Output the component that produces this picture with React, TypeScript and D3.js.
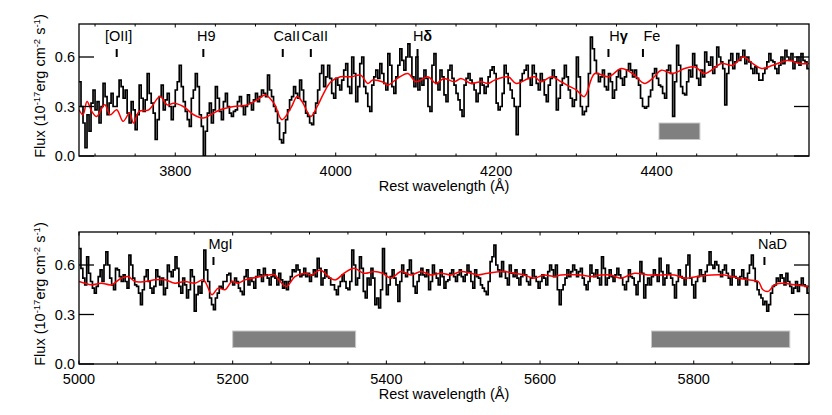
import React from 'react';
import * as d3 from 'd3';

// ---------- data ----------
const TOP_START = 3680;
const BOT_START = 5000;
const BIN = 2.5;

const topFlux = [
  0.45, 0.3, 0.2, 0.05, 0.25, 0.15, 0.32, 0.4, 0.28, 0.33,
  0.2, 0.3, 0.44, 0.36, 0.25, 0.32, 0.38, 0.3, 0.3, 0.36,
  0.46, 0.42, 0.35, 0.4, 0.26, 0.2, 0.33, 0.28, 0.16, 0.25,
  0.43, 0.35, 0.27, 0.34, 0.5, 0.38, 0.32, 0.26, 0.1, 0.22,
  0.36, 0.43, 0.28, 0.34, 0.38, 0.3, 0.22, 0.3, 0.4, 0.45,
  0.55, 0.42, 0.33, 0.27, 0.22, 0.18, 0.35, 0.4, 0.5, 0.42,
  0.25, 0.18, 0.0, 0.15, 0.26, 0.32, 0.2, 0.28, 0.42, 0.35,
  0.27, 0.22, 0.33, 0.38, 0.3, 0.26, 0.24, 0.27, 0.28, 0.33,
  0.36, 0.3, 0.25, 0.3, 0.37, 0.32, 0.28, 0.34, 0.38, 0.33,
  0.36, 0.4, 0.38, 0.36, 0.49, 0.4, 0.36, 0.3, 0.27, 0.2,
  0.1, 0.08, 0.14, 0.22, 0.28, 0.34, 0.36, 0.42, 0.38, 0.35,
  0.46, 0.4, 0.33, 0.26, 0.24, 0.2, 0.19, 0.26, 0.32, 0.4,
  0.5, 0.55, 0.42, 0.48,
  0.55, 0.47, 0.38, 0.35, 0.47, 0.43, 0.4, 0.46, 0.52, 0.56,
  0.42, 0.38, 0.6, 0.5, 0.33, 0.42, 0.56, 0.6, 0.42, 0.38,
  0.3, 0.27, 0.43, 0.48, 0.52, 0.47, 0.56, 0.5, 0.44, 0.4,
  0.62, 0.55, 0.42, 0.38, 0.48, 0.55, 0.65, 0.58, 0.52, 0.6,
  0.68, 0.6, 0.48, 0.42, 0.6, 0.4, 0.47, 0.43, 0.52, 0.47,
  0.3, 0.27, 0.55, 0.62, 0.44, 0.4, 0.52, 0.48, 0.37, 0.33,
  0.52, 0.55, 0.47, 0.43, 0.38, 0.34, 0.28, 0.24, 0.43, 0.47,
  0.5, 0.46, 0.44, 0.4, 0.33, 0.38, 0.47, 0.43, 0.38, 0.42,
  0.48, 0.52, 0.54, 0.5, 0.32, 0.28, 0.3, 0.38, 0.55, 0.5,
  0.44, 0.4, 0.35, 0.3, 0.13, 0.3, 0.46, 0.5, 0.52, 0.55,
  0.47, 0.43, 0.55, 0.5, 0.44, 0.4, 0.5, 0.46, 0.37, 0.33,
  0.43, 0.47, 0.52, 0.48, 0.28, 0.35, 0.43, 0.47, 0.55, 0.48,
  0.4, 0.35, 0.3, 0.34, 0.6, 0.48, 0.3, 0.25, 0.27, 0.3,
  0.5, 0.72, 0.65, 0.58, 0.5, 0.45, 0.48, 0.52, 0.42, 0.4,
  0.5, 0.45, 0.35, 0.4, 0.48, 0.52, 0.47, 0.43, 0.48, 0.52,
  0.56, 0.52, 0.48, 0.52, 0.47, 0.43, 0.35, 0.3, 0.29, 0.3,
  0.36, 0.4, 0.5, 0.53, 0.47, 0.43, 0.42, 0.38, 0.35, 0.52,
  0.55, 0.5, 0.24, 0.45, 0.67, 0.55, 0.42, 0.38, 0.37, 0.45,
  0.52, 0.48, 0.62, 0.55, 0.47, 0.43, 0.52, 0.48, 0.63, 0.57,
  0.55, 0.6, 0.5, 0.54, 0.66, 0.6, 0.57, 0.53, 0.31, 0.5,
  0.58, 0.62, 0.53, 0.57, 0.62, 0.58, 0.6, 0.64, 0.56, 0.6,
  0.57, 0.53, 0.5, 0.54, 0.5, 0.46, 0.46, 0.5, 0.53, 0.57,
  0.62, 0.58, 0.57, 0.53, 0.5, 0.55, 0.6, 0.56, 0.64, 0.6,
  0.58, 0.62, 0.53, 0.57, 0.6, 0.55, 0.62, 0.58, 0.57, 0.53,
];

const topModelWave = [
  3680, 3685, 3690, 3696, 3702, 3712, 3719, 3727, 3735, 3743,
  3748, 3755, 3767, 3781, 3790, 3798, 3810, 3823, 3835, 3844,
  3856, 3873, 3890, 3902, 3912, 3923, 3933, 3944, 3952, 3958,
  3969, 3977, 3985, 3994, 4006, 4019, 4031, 4040, 4046, 4058,
  4065, 4077, 4090, 4100, 4115, 4125, 4135, 4148, 4156, 4169,
  4181, 4190, 4198, 4215, 4225, 4240, 4248, 4256, 4269, 4281,
  4292, 4300, 4310, 4323, 4340, 4356, 4370, 4385, 4395, 4406,
  4420, 4435, 4448, 4460, 4481, 4495, 4508, 4520, 4531, 4545,
  4565, 4578, 4590,
];
const topModelFlux = [
  0.28, 0.25, 0.33, 0.27, 0.24, 0.31, 0.25, 0.28, 0.21, 0.26,
  0.2, 0.27, 0.28, 0.36, 0.31, 0.32, 0.3, 0.25, 0.23, 0.25,
  0.28, 0.3, 0.31, 0.34, 0.37, 0.32, 0.22, 0.29, 0.36, 0.33,
  0.24, 0.3, 0.38, 0.45, 0.48, 0.48, 0.49, 0.44, 0.46, 0.45,
  0.43, 0.47, 0.5, 0.45, 0.48, 0.44, 0.47, 0.45, 0.47, 0.44,
  0.45, 0.44, 0.46, 0.48, 0.44, 0.47, 0.48, 0.45, 0.48, 0.45,
  0.42, 0.4, 0.36, 0.5, 0.48, 0.53, 0.5, 0.44, 0.47, 0.52,
  0.5, 0.53, 0.54, 0.5, 0.56, 0.55, 0.6, 0.56, 0.53, 0.55,
  0.58, 0.56, 0.56,
];

const botFlux = [
  0.7, 0.58, 0.52, 0.48, 0.65, 0.55, 0.5, 0.46, 0.43, 0.47,
  0.53, 0.57, 0.5, 0.6, 0.68, 0.6, 0.52, 0.48, 0.45, 0.58,
  0.57, 0.53, 0.5, 0.54, 0.5, 0.46, 0.66, 0.6, 0.52, 0.48,
  0.47, 0.43, 0.36, 0.45, 0.53, 0.57, 0.5, 0.46, 0.43, 0.47,
  0.57, 0.53, 0.48, 0.52, 0.42, 0.46, 0.6, 0.56, 0.53, 0.57,
  0.65, 0.58, 0.47, 0.43, 0.52, 0.48, 0.4, 0.45, 0.57, 0.53,
  0.32, 0.42, 0.47, 0.43, 0.5, 0.69, 0.57, 0.5, 0.4, 0.36,
  0.33, 0.4, 0.43, 0.47, 0.46, 0.5, 0.5, 0.54, 0.55, 0.5,
  0.48, 0.52, 0.5, 0.46, 0.44, 0.42, 0.53, 0.57, 0.48, 0.52,
  0.5, 0.46, 0.53, 0.57, 0.54, 0.5, 0.58, 0.54, 0.52, 0.48,
  0.53, 0.57, 0.52, 0.48, 0.55, 0.51, 0.46, 0.5, 0.45, 0.5,
  0.53, 0.57, 0.56, 0.6, 0.57, 0.53, 0.54, 0.58, 0.53, 0.55,
  0.5, 0.54, 0.57, 0.53, 0.64, 0.58, 0.48, 0.52, 0.57, 0.53,
  0.52, 0.48, 0.48, 0.45, 0.42, 0.47, 0.5, 0.54, 0.5, 0.46,
  0.45, 0.5, 0.69, 0.6, 0.48, 0.52, 0.65, 0.58, 0.44, 0.4,
  0.52, 0.48, 0.58, 0.52, 0.36, 0.4, 0.34, 0.45, 0.7, 0.55,
  0.42, 0.48, 0.53, 0.57, 0.52, 0.48, 0.38, 0.5, 0.6, 0.55,
  0.53, 0.57, 0.63, 0.55, 0.47, 0.43, 0.5, 0.54, 0.58, 0.54,
  0.53, 0.57, 0.45, 0.5, 0.6, 0.55, 0.52, 0.48, 0.57, 0.53,
  0.46, 0.5, 0.51, 0.55, 0.57, 0.53, 0.5, 0.54, 0.57, 0.53,
  0.5, 0.54, 0.6, 0.56, 0.5, 0.46, 0.57, 0.53, 0.52, 0.48,
  0.46, 0.44, 0.42, 0.5, 0.62, 0.65, 0.72, 0.6, 0.57, 0.53,
  0.62, 0.56, 0.52, 0.48, 0.6, 0.55, 0.53, 0.57, 0.52, 0.48,
  0.53, 0.57, 0.54, 0.5, 0.48, 0.52, 0.57, 0.53, 0.5, 0.46,
  0.5, 0.54, 0.52, 0.48, 0.56, 0.6, 0.57, 0.53, 0.6, 0.45,
  0.36, 0.45, 0.48, 0.52, 0.57, 0.53, 0.56, 0.6, 0.57, 0.53,
  0.56, 0.58, 0.52, 0.48, 0.45, 0.5, 0.6, 0.55, 0.53, 0.57,
  0.52, 0.48, 0.65, 0.58, 0.48, 0.52, 0.57, 0.53, 0.5, 0.54,
  0.58, 0.54, 0.52, 0.48, 0.45, 0.5, 0.57, 0.53, 0.52, 0.48,
  0.42, 0.5, 0.62, 0.55, 0.4, 0.48, 0.52, 0.48, 0.53, 0.57,
  0.54, 0.5, 0.64, 0.56, 0.48, 0.52, 0.6, 0.55, 0.52, 0.48,
  0.4, 0.5, 0.57, 0.53, 0.52, 0.48, 0.6, 0.66, 0.52, 0.48,
  0.4, 0.5, 0.53, 0.57, 0.54, 0.5, 0.56, 0.6, 0.68, 0.6,
  0.58, 0.62, 0.6, 0.56, 0.53, 0.57, 0.6, 0.55, 0.52, 0.48,
  0.57, 0.53, 0.52, 0.48, 0.53, 0.57, 0.52, 0.48, 0.55, 0.6,
  0.66, 0.58, 0.5, 0.45, 0.42, 0.4, 0.36, 0.38, 0.32, 0.36,
  0.43, 0.47, 0.48, 0.52, 0.5, 0.54, 0.52, 0.48, 0.55, 0.5,
  0.47, 0.43, 0.46, 0.5, 0.44, 0.48, 0.52, 0.48, 0.47, 0.43,
];

const botModelWave = [
  5000, 5016, 5029, 5042, 5055, 5064, 5073, 5086, 5099, 5112,
  5125, 5138, 5151, 5162, 5173, 5181, 5190, 5199, 5207, 5216,
  5225, 5236, 5247, 5255, 5260, 5270, 5281, 5294, 5303, 5314,
  5327, 5334, 5345, 5358, 5371, 5384, 5395, 5406, 5419, 5432,
  5445, 5458, 5471, 5484, 5497, 5510, 5519, 5532, 5553, 5566,
  5579, 5592, 5605, 5619, 5627, 5653, 5666, 5679, 5692, 5705,
  5723, 5740, 5758, 5775, 5788, 5805, 5823, 5840, 5858, 5871,
  5884, 5890, 5897, 5905, 5914, 5931, 5950,
];
const botModelFlux = [
  0.5, 0.48, 0.49, 0.48, 0.52, 0.53, 0.5, 0.5, 0.51, 0.51,
  0.49, 0.5, 0.49, 0.51, 0.42, 0.46, 0.45, 0.5, 0.49, 0.51,
  0.52, 0.53, 0.54, 0.54, 0.51, 0.47, 0.53, 0.55, 0.54, 0.57,
  0.52, 0.51, 0.55, 0.58, 0.55, 0.56, 0.55, 0.52, 0.56, 0.54,
  0.56, 0.54, 0.55, 0.54, 0.56, 0.55, 0.54, 0.55, 0.56, 0.55,
  0.54, 0.52, 0.54, 0.53, 0.54, 0.54, 0.53, 0.54, 0.54, 0.52,
  0.55, 0.54, 0.54, 0.54, 0.52, 0.53, 0.54, 0.54, 0.52, 0.51,
  0.5, 0.45, 0.44, 0.48, 0.49, 0.48, 0.47,
];

const topLineNames = ['[OII]', 'H9', 'CaII', 'CaII', 'H\u03b4', 'H\u03b3', 'Fe'];
const topLineWave = [3727, 3835, 3934, 3969, 4102, 4340, 4383];
const botLineNames = ['MgI', 'NaD'];
const botLineWave = [5175, 5892];

const topBands = [[4403, 4454]];
const botBands = [[5200, 5360], [5745, 5925]];
const bandFlux = [0.1, 0.2];

const yTicks = [0, 0.3, 0.6];
const topXTicks = [3800, 4000, 4200, 4400];
const botXTicks = [5000, 5200, 5400, 5600, 5800];
const topDomain = [3680, 4590];
const botDomain = [5000, 5950];
const yDomain = [0, 0.8];

// ---------- layout ----------
const W = 832, H = 415;
const LEFT = 79, RIGHT = 809;
const FONT = "'Liberation Sans', Arial, Helvetica, sans-serif";
const FS = 14.5;

function Panel({ top, bottom, domain, start, flux, mWave, mFlux, xTicks, lineNames, lineWave, labelDx, bands, id }) {
  const x = d3.scaleLinear().domain(domain).range([LEFT, RIGHT]);
  const y = d3.scaleLinear().domain(yDomain).range([bottom, top]);
  const pts = flux.map((f, i) => [start + i * BIN, f]);
  pts.push([start + flux.length * BIN, flux[flux.length - 1]]);
  const stepLine = d3.line().x(d => x(d[0])).y(d => y(d[1])).curve(d3.curveStepAfter);
  const model = d3.line().x((d, i) => x(mWave[i])).y((d, i) => y(mFlux[i])).curve(d3.curveCatmullRom.alpha(0.5));
  const minor = d3.range(Math.ceil(domain[0] / 50) * 50, domain[1] + 0.1, 50);
  const cy = (top + bottom) / 2 - 4;
  const label = (n) => {
    if (n.startsWith('H') && (n.includes('\u03b4') || n.includes('\u03b3'))) {
      return (<>{'H'}<tspan fontWeight="bold">{n.slice(1)}</tspan></>);
    }
    return n;
  };
  return (
    <g>
      <defs>
        <clipPath id={id}>
          <rect x={LEFT} y={top} width={RIGHT - LEFT} height={bottom - top} />
        </clipPath>
      </defs>
      {bands.map((b, i) => (
        <rect key={i} x={x(b[0])} y={y(bandFlux[1])} width={x(b[1]) - x(b[0])} height={y(bandFlux[0]) - y(bandFlux[1])}
          fill="#808080" stroke="#c8c8c8" strokeWidth={1} />
      ))}
      <g clipPath={`url(#${id})`}>
        <path d={stepLine(pts)} fill="none" stroke="#000" strokeWidth={1.7} strokeLinejoin="miter" />
        <path d={model(mWave)} fill="none" stroke="#ff0000" strokeWidth={1.5} />
      </g>
      <rect x={LEFT} y={top} width={RIGHT - LEFT} height={bottom - top} fill="none" stroke="#000" strokeWidth={1.3} />
      {yTicks.map(t => (
        <g key={t}>
          <line x1={LEFT} x2={LEFT + 15} y1={y(t)} y2={y(t)} stroke="#000" strokeWidth={1.3} />
          <line x1={RIGHT - 15} x2={RIGHT} y1={y(t)} y2={y(t)} stroke="#000" strokeWidth={1.3} />
          <text x={LEFT - 4} y={y(t) + 5} textAnchor="end" fontSize={FS} fontFamily={FONT}>{t.toFixed(1)}</text>
        </g>
      ))}
      {minor.map(t => {
        const major = xTicks.includes(t);
        const len = major ? 3.5 : 2.5;
        return (
          <g key={t}>
            <line x1={x(t)} x2={x(t)} y1={bottom} y2={bottom - len} stroke="#000" strokeWidth={1} />
            <line x1={x(t)} x2={x(t)} y1={top} y2={top + len} stroke="#000" strokeWidth={1} />
          </g>
        );
      })}
      {xTicks.map(t => (
        <text key={t} x={x(t)} y={bottom + 20} textAnchor="middle" fontSize={FS} fontFamily={FONT}>{t}</text>
      ))}
      <text x={(LEFT + RIGHT) / 2} y={bottom + 35} textAnchor="middle" fontSize={FS} fontFamily={FONT}>Rest wavelength (Å)</text>
      <text transform={`translate(45, ${cy}) rotate(-90)`} textAnchor="middle" fontSize={FS} fontFamily={FONT}>
        Flux (10<tspan dy={-5.5} fontSize={9.5}>-17</tspan><tspan dy={5.5}>erg cm</tspan><tspan dy={-5.5} fontSize={9.5}>-2</tspan><tspan dy={5.5}> s</tspan><tspan dy={-5.5} fontSize={9.5}>-1</tspan><tspan dy={5.5}>)</tspan>
      </text>
      {lineWave.map((w, i) => (
        <g key={i}>
          <line x1={x(w)} x2={x(w)} y1={top + 25} y2={top + 33} stroke="#000" strokeWidth={2} />
          <text x={x(w) + labelDx[i]} y={top + 17} textAnchor="middle" fontSize={FS} fontFamily={FONT}>{label(lineNames[i])}</text>
        </g>
      ))}
    </g>
  );
}

export default function App() {
  return (
    <svg width={W} height={H} style={{ position: 'absolute', left: 0, top: 0, background: '#fff' }}>
      <rect x={0} y={0} width={W} height={H} fill="#fff" />
      <Panel id="clipTop" top={24} bottom={156} domain={topDomain} start={TOP_START} flux={topFlux}
        mWave={topModelWave} mFlux={topModelFlux} xTicks={topXTicks}
        lineNames={topLineNames} lineWave={topLineWave} labelDx={[2, 3, 4, 4, 5, 10, 9]} bands={topBands} />
      <Panel id="clipBot" top={232} bottom={364} domain={botDomain} start={BOT_START} flux={botFlux}
        mWave={botModelWave} mFlux={botModelFlux} xTicks={botXTicks}
        lineNames={botLineNames} lineWave={botLineWave} labelDx={[7, 8]} bands={botBands} />
    </svg>
  );
}
